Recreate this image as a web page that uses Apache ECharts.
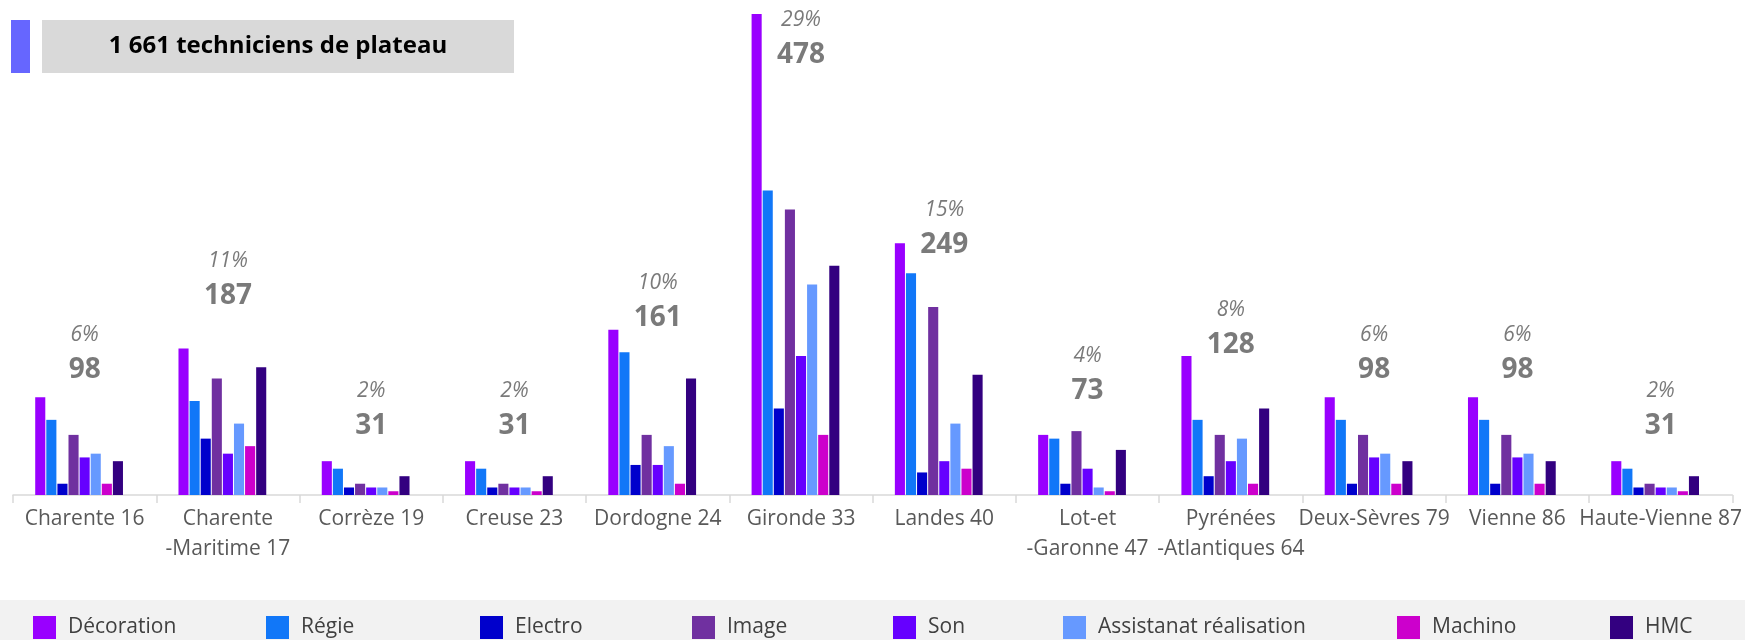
<!DOCTYPE html>
<html>
<head>
<meta charset="utf-8">
<script src="https://cdn.jsdelivr.net/npm/echarts@6/dist/echarts.min.js"></script>
<style>
html,body{margin:0;padding:0;background:#fff;}
#chart{width:1745px;height:640px;}
</style>
</head>
<body>
<div id="chart"></div>
<script>
const categories = ['Charente 16','Charente\n-Maritime 17','Corrèze 19','Creuse 23','Dordogne 24','Gironde 33','Landes 40','Lot-et\n-Garonne 47','Pyrénées\n-Atlantiques 64','Deux-Sèvres 79','Vienne 86','Haute-Vienne 87'];
const seriesNames = ['Décoration','Régie','Electro','Image','Son','Assistanat réalisation','Machino','HMC'];
const decoration = [26,39,9,9,44,128,67,16,37,26,26,9];
const regie      = [20,25,7,7,38,81,59,15,20,20,20,7];
const electro    = [3,15,2,2,8,23,6,3,5,3,3,2];
const image      = [16,31,3,3,16,76,50,17,16,16,16,3];
const son        = [10,11,2,2,8,37,9,7,9,10,10,2];
const assistanat = [11,19,2,2,13,56,19,2,15,11,11,2];
const machino    = [3,13,1,1,3,16,7,1,3,3,3,1];
const hmc        = [9,34,5,5,31,61,32,12,23,9,9,5];
const totals     = [98,187,31,31,161,478,249,73,128,98,98,31];
const pcts       = ['6%','11%','2%','2%','10%','29%','15%','4%','8%','6%','6%','2%'];
const titleText  = '1 661 techniciens de plateau';

const seriesData = [decoration, regie, electro, image, son, assistanat, machino, hmc];
const colors = ['#9900FF','#1177F8','#0000CC','#7030A0','#6600FF','#6699FF','#CC00CC','#330080'];
const legendLeft = [33,266,480,692,893,1063,1397,1610];
const FONT = '"Open Sans", "DejaVu Sans", sans-serif';

const series = seriesNames.map((name, i) => ({
  name: name,
  type: 'bar',
  data: seriesData[i],
  itemStyle: { color: colors[i] },
  barGap: '10%',
  barCategoryGap: '31%',
  emphasis: { disabled: true }
}));
// invisible total series (reserves its slot, like the original)
series.push({
  name: 'Total',
  type: 'bar',
  yAxisIndex: 1,
  data: totals,
  itemStyle: { color: 'rgba(0,0,0,0)' },
  barGap: '10%',
  barCategoryGap: '31%',
  emphasis: { disabled: true },
  silent: true
});
// labels centred on each category
series.push({
  name: 'TotalLabels',
  type: 'scatter',
  yAxisIndex: 1,
  data: totals,
  symbol: 'circle',
  symbolSize: 1,
  itemStyle: { color: 'rgba(0,0,0,0)' },
  silent: true,
  label: {
    show: true,
    position: 'top',
    distance: 25,
    align: 'center',
    formatter: p => '{p|' + pcts[p.dataIndex] + '}\n{n|' + totals[p.dataIndex] + '}',
    rich: {
      p: { fontFamily: FONT, fontStyle: 'italic', fontSize: 21, color: '#595959', lineHeight: 34, align: 'center' },
      n: { fontFamily: FONT, fontWeight: 'bold', fontSize: 28, color: '#595959', lineHeight: 36, align: 'center' }
    }
  }
});

const legends = seriesNames.map((name, i) => ({
  data: [name],
  left: legendLeft[i],
  top: 616,
  padding: 0,
  icon: 'rect',
  itemWidth: 23,
  itemHeight: 23,
  selectedMode: false,
  textStyle: { fontFamily: FONT, fontSize: 21, color: '#404040', padding: [0, 0, 0, 7] }
}));

const chart = echarts.init(document.getElementById('chart'), null, { renderer: 'canvas' });
chart.setOption({
  animation: false,
  textStyle: { fontFamily: FONT },
  grid: { left: 13, right: 12, top: 14, bottom: 145, containLabel: false },
  xAxis: {
    type: 'category',
    data: categories,
    axisLine: { show: true, lineStyle: { color: '#D9D9D9', width: 1.5 } },
    axisTick: { show: true, length: 8, lineStyle: { color: '#D9D9D9', width: 1.5 } },
    axisLabel: { interval: 0, fontFamily: FONT, fontSize: 21, color: '#595959', lineHeight: 30, margin: 9 }
  },
  yAxis: [
    { type: 'value', min: 0, max: 128, show: false, splitLine: { show: false } },
    { type: 'value', min: 0, max: 580, show: false, splitLine: { show: false } }
  ],
  legend: legends,
  graphic: [
    { type: 'rect', left: 0, top: 600, z: -100, shape: { width: 1745, height: 40 }, style: { fill: '#F2F2F2' } },
    { type: 'rect', left: 11, top: 20, shape: { width: 19, height: 53 }, style: { fill: '#6666FF' } },
    { type: 'rect', left: 42, top: 20, shape: { width: 472, height: 53 }, style: { fill: '#D9D9D9' } },
    { type: 'text', z: 10, position: [278, 46.5], style: { text: titleText, fontFamily: FONT, fontWeight: 'bold', fontSize: 24, fill: '#000', align: 'center', verticalAlign: 'middle' } }
  ],
  series: series
});
</script>
</body>
</html>
